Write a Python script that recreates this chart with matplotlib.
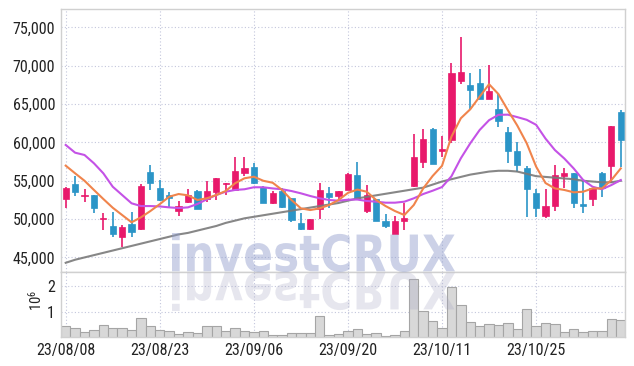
import matplotlib
matplotlib.use("Agg")
import matplotlib.pyplot as plt
import numpy as np
from matplotlib.textpath import TextPath
from matplotlib.patches import PathPatch
from matplotlib.font_manager import FontProperties
from matplotlib.transforms import Affine2D, IdentityTransform
from matplotlib.ticker import FuncFormatter

# 1. Data (one entry per trading day, 23/08/08 .. 23/11/07)
tick_idx = [0, 10, 20, 30, 40, 50]
tick_labels = ['23/08/08', '23/08/23', '23/09/06', '23/09/20', '23/10/11', '23/10/25']

opens = [52600, 54600, 53000, 53150, 50000, 49100, 47600, 49300, 48650, 56150,
         54050, 53100, 51000, 52250, 53650, 52600, 53550, 54550, 53800, 55950,
         56850, 54150, 52150, 53700, 52700, 49450, 48650, 51300, 53400, 53050,
         53800, 55750, 51100, 52600, 49750, 48050, 49750, 54350, 57400, 61750,
         58900, 60300, 68050, 67500, 67800, 65650, 64350, 61300, 58900, 56700,
         53400, 50400, 51750, 55650, 55950, 51950, 52600, 55950, 56900, 64000]
highs = [54200, 55600, 53900, 53200, 50750, 50950, 49250, 50950, 54550, 57050,
         55100, 53550, 52400, 53900, 53800, 55000, 55400, 54750, 58050, 58050,
         57300, 54300, 53650, 54000, 52750, 50750, 50000, 54650, 54150, 53700,
         56000, 57400, 54450, 52650, 50600, 50400, 52050, 61050, 61700, 61850,
         60850, 70350, 73700, 69000, 69550, 70100, 66300, 61950, 60000, 56900,
         53900, 53900, 57050, 56700, 56050, 55100, 54000, 56100, 62150, 64250]
lows = [51400, 53050, 52250, 50750, 48550, 47600, 46400, 47600, 48600, 53800,
        52400, 51400, 50400, 52050, 51350, 52250, 52500, 53150, 53700, 55600,
        54600, 52100, 51950, 51500, 49650, 48550, 48600, 49950, 51400, 52400,
        53800, 52600, 50750, 49750, 48800, 48000, 48550, 54200, 56650, 57200,
        58150, 59950, 67650, 64350, 65600, 65600, 62050, 57350, 56200, 50250,
        50300, 50100, 51100, 54000, 51400, 50850, 51700, 52850, 54750, 56750]
closes = [54100, 53550, 53100, 51500, 50100, 48000, 49000, 48350, 54300, 54700,
          52550, 52800, 51650, 53150, 51350, 53650, 55300, 54700, 56250, 56650,
          54750, 52150, 53450, 51600, 49850, 48700, 50000, 53800, 52900, 53650,
          55900, 52750, 53150, 49800, 49100, 49800, 50150, 58150, 60450, 57200,
          59150, 69100, 69150, 66850, 65650, 66750, 62800, 58900, 57050, 53900,
          51400, 51700, 55750, 55950, 52050, 51700, 54000, 54000, 62150, 60300]

ma_short = [56970, 55970, 55000, 53800, 52620, 51480, 50530, 49580, 50230, 51050,
            51950, 52920, 53270, 53100, 52490, 52710, 53140, 53660, 54670, 55320,
            55530, 55000, 54740, 53800, 52490, 51400, 51180, 51400, 51840, 52490,
            53420, 53850, 53570, 52490, 51700, 51050, 50530, 51840, 54000, 55620,
            56950, 60750, 63150, 64320, 65970, 67590, 66300, 64200, 62200, 59900,
            56850, 54700, 54000, 53800, 53490, 53570, 54000, 54000, 55090, 56610]
ma_mid = [59670, 58660, 58360, 57280, 55970, 54220, 53140, 52060, 51700, 51700,
          51650, 51530, 51440, 51530, 51970, 52580, 53140, 53570, 53800, 53890,
          54150, 54150, 54000, 53890, 53660, 53360, 53010, 52710, 52490, 52400,
          52530, 52550, 52360, 52270, 52140, 52140, 52270, 52710, 53270, 53700,
          54180, 55580, 57930, 59880, 61620, 62900, 63600, 63620, 63300, 62950,
          62300, 60500, 59000, 57900, 56600, 55100, 54220, 53890, 54440, 55090]
ma_long = [44300, 44700, 45000, 45300, 45600, 45900, 46200, 46500, 46800, 47100,
           47400, 47700, 48000, 48200, 48500, 48800, 49100, 49500, 49800, 50100,
           50300, 50500, 50700, 50900, 51100, 51300, 51500, 51700, 51900, 52100,
           52400, 52700, 52900, 53100, 53300, 53500, 53700, 53900, 54100, 54500,
           54900, 55200, 55500, 55800, 56000, 56200, 56300, 56300, 56200, 55900,
           55600, 55500, 55400, 55300, 55200, 55000, 54900, 54800, 54800, 55000]

volumes = [460000, 410000, 230000, 330000, 500000, 410000, 410000, 330000, 800000, 460000,
           310000, 270000, 180000, 260000, 220000, 460000, 460000, 270000, 410000, 300000,
           260000, 300000, 140000, 140000, 220000, 220000, 220000, 850000, 140000, 150000,
           300000, 360000, 180000, 220000, 100000, 140000, 300000, 2300000, 1060000, 680000,
           410000, 1960000, 1300000, 640000, 490000, 560000, 530000, 600000, 360000, 1140000,
           490000, 600000, 560000, 260000, 360000, 260000, 300000, 300000, 760000, 720000]

# 2. Styling
UP = '#e8196b'
DOWN = '#2b95c7'
GRID = '#c3c6dc'
SPINE = '#d0d0d0'
plt.rcParams['font.family'] = ['Roboto Condensed', 'DejaVu Sans']
plt.rcParams['mathtext.default'] = 'regular'
LABEL_SIZE = 11.5

x = np.arange(len(closes))
o = np.array(opens)
c = np.array(closes)
up = c >= o

fig = plt.figure(figsize=(6.34, 3.66), dpi=100)
W, H = 634, 366
ax = fig.add_axes([61 / W, (H - 272) / H, 564 / W, 263 / H])
axv = fig.add_axes([61 / W, (H - 337) / H, 564 / W, 65 / H], sharex=ax)

for a in (ax, axv):
    a.set_axisbelow(True)
    a.grid(True, color=GRID, linestyle=(0, (1, 2)), linewidth=0.8)
    for s in a.spines.values():
        s.set_color(SPINE)
        s.set_linewidth(1.0)
    a.tick_params(length=0, colors='#222222', labelsize=LABEL_SIZE, pad=4.3)

# 3. Candles
colors = np.where(up, UP, DOWN)
ax.vlines(x, lows, highs, colors=colors, linewidth=1.2, zorder=2)
body = np.maximum(np.abs(c - o), 200)
bottom = np.minimum(o, c)
ax.bar(x, body, bottom=bottom, width=0.66, color=colors, edgecolor=colors,
       linewidth=0.5, zorder=2)

# moving averages
ax.plot(x, ma_long, color='#7a7a7a', linewidth=1.5, alpha=0.9, zorder=3)
ax.plot(x, ma_mid, color='#c452e6', linewidth=1.5, zorder=3)
ax.plot(x, ma_short, color='#f0844c', linewidth=1.5, zorder=3)

ax.set_ylim(43100, 77400)
ax.set_yticks(range(45000, 75001, 5000))
ax.yaxis.set_major_formatter(FuncFormatter(lambda v, p: f'{int(v):,}'))
ax.set_xlim(-0.5, 59.45)
ax.tick_params(axis='x', labelbottom=False)

# 4. Volume
vol_m = np.array(volumes) / 1e6
axv.bar(x, vol_m, width=1.0, color='#d8d8d8', edgecolor='#a5a5a5', linewidth=0.8, zorder=2)
axv.set_ylim(0.05, 2.55)
axv.set_yticks([1, 2])
axv.set_xticks(tick_idx)
axv.set_xticklabels(tick_labels)
fig.text(36 / W, 1 - 300 / H, r'10$^{6}$', rotation=90, ha='center', va='center',
         fontsize=10.5, color='#222222')

# 5. Watermark with reflection
fp = FontProperties(family='DejaVu Sans', weight='bold')
tp = TextPath((0, 0), 'investCRUX', size=100, prop=fp)
ext = tp.get_extents()
sx = (455 - 172) / ext.width
sy = (272 - 233) / ext.height
base = H - 272
t_main = Affine2D().translate(-ext.x0, -ext.y0).scale(sx, sy).translate(172, base)
t_refl = Affine2D().translate(-ext.x0, -ext.y0).scale(sx, -sy).translate(172, base)
fig.add_artist(PathPatch(t_main.transform_path(tp), facecolor='#8e9bcb', edgecolor='none',
                         alpha=0.45, transform=IdentityTransform()))
fig.add_artist(PathPatch(t_refl.transform_path(tp), facecolor='#a8a8c4', edgecolor='none',
                         alpha=0.28, transform=IdentityTransform()))

fig.savefig('out.png', dpi=100)
